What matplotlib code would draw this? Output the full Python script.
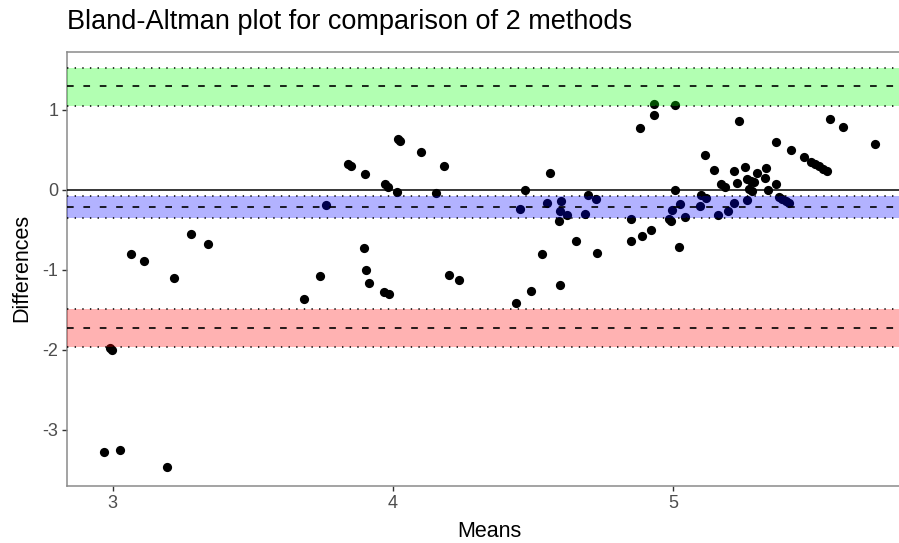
import matplotlib
matplotlib.use("Agg")
import matplotlib.pyplot as plt

plt.rcParams["font.family"] = ["Liberation Sans", "DejaVu Sans"]
plt.rcParams["lines.scale_dashes"] = False
plt.rcParams["axes.unicode_minus"] = False

# means / differences
means = [
    2.970, 3.027, 3.194, 2.990, 2.999, 3.067, 3.111, 3.219, 3.279, 3.340,
    3.682, 3.738, 3.761, 3.838, 3.850, 3.901, 3.970, 3.982, 4.013, 4.017,
    4.024, 4.100, 4.155, 4.182, 3.896, 3.902, 3.914, 3.968, 3.987, 4.201,
    4.234, 4.439, 4.494, 4.454, 4.470, 4.530, 4.548, 4.561, 4.593, 4.595,
    4.595, 4.601, 4.621, 4.652, 4.686, 4.695, 4.725, 4.726, 4.849, 4.850,
    4.881, 4.889, 4.919, 4.931, 4.932, 4.986, 4.993, 4.995, 5.007, 5.007,
    5.019, 5.024, 5.040, 5.095, 5.100, 5.116, 5.114, 5.144, 5.161, 5.169,
    5.183, 5.196, 5.215, 5.216, 5.226, 5.236, 5.257, 5.264, 5.264, 5.276,
    5.288, 5.270, 5.282, 5.299, 5.326, 5.331, 5.336, 5.365, 5.365, 5.377,
    5.389, 5.401, 5.413, 5.420, 5.465, 5.490, 5.505, 5.519, 5.533, 5.547,
    5.558, 5.607, 5.718,
]
diffs = [
    -3.275, -3.254, -3.458, -1.980, -2.000, -0.800, -0.890, -1.100, -0.554, -0.680,
    -1.366, -1.070, -0.190, 0.325, 0.300, 0.204, 0.070, 0.040, -0.025, 0.633,
    0.610, 0.470, -0.038, 0.300, -0.720, -1.004, -1.160, -1.270, -1.300, -1.066,
    -1.130, -1.408, -1.258, -0.238, -0.004, -0.796, -0.163, 0.213, -0.383, -0.258,
    -1.190, -0.138, -0.308, -0.633, -0.304, -0.059, -0.117, -0.788, -0.358, -0.633,
    0.775, -0.579, -0.504, 1.075, 0.938, -0.367, -0.390, -0.254, 0.000, 1.063,
    -0.708, -0.180, -0.338, -0.196, -0.063, -0.096, 0.442, 0.250, -0.317, 0.071,
    0.038, -0.258, 0.238, -0.158, 0.083, 0.863, 0.288, 0.142, -0.125, 0.117,
    0.096, 0.008, -0.013, 0.208, 0.146, 0.271, 0.000, 0.075, 0.604, -0.083,
    -0.113, -0.138, -0.163, 0.496, 0.408, 0.354, 0.325, 0.296, 0.267, 0.242,
    0.883, 0.788, 0.571,
]

# bias and limits of agreement with their confidence bands
band_names = ["upper", "mean", "lower"]
band_centre = [1.30, -0.21, -1.73]
band_low = [1.05, -0.35, -1.96]
band_high = [1.53, -0.075, -1.49]
band_colour = ["#00ff00", "#0000ff", "#ff0000"]

fig = plt.figure(figsize=(8.99, 5.43), dpi=100)
ax = fig.add_axes([67 / 899, 56.7 / 543, 1 - 67 / 899, 434.3 / 543])

# points go under the translucent bands, like the original
ax.scatter(means, diffs, s=44, color="black", linewidths=0, zorder=2)

dash = (0, (4.8, 7.0))
dot = (0, (1.0, 4.5))
for c, lo, hi, col in zip(band_centre, band_low, band_high, band_colour):
    ax.axhspan(lo, hi, color=col, alpha=0.3, lw=0, zorder=3)
    ax.axhline(c, color="black", lw=1.2, linestyle=dash, zorder=4)
    ax.axhline(lo, color="black", lw=1.1, linestyle=dot, zorder=4)
    ax.axhline(hi, color="black", lw=1.1, linestyle=dot, zorder=4)
ax.axhline(0, color="black", lw=1.1, zorder=4)

ax.set_xlim(2.837, 5.805)
ax.set_ylim(-3.704, 1.725)
ax.set_xticks([3, 4, 5])
ax.set_yticks([-3, -2, -1, 0, 1])

for side in ["left", "bottom", "top"]:
    ax.spines[side].set_color("#8a8a8a")
    ax.spines[side].set_linewidth(1.1)
ax.spines["right"].set_visible(False)
ax.tick_params(length=3.6, width=1.0, color="#333333", labelcolor="#4d4d4d",
               labelsize=13, pad=2.5)

fig.text(489.5 / 899, 1 - 537 / 543, "Means", fontsize=15.5,
         ha="center", va="baseline")
fig.text(21.7 / 899, 1 - 268 / 543, "Differences", fontsize=15.5,
         rotation=90, ha="center", va="center")
fig.text(67 / 899, 1 - 29 / 543, "Bland-Altman plot for comparison of 2 methods",
         fontsize=19.5, ha="left", va="baseline")

fig.savefig("out.png", dpi=100)
